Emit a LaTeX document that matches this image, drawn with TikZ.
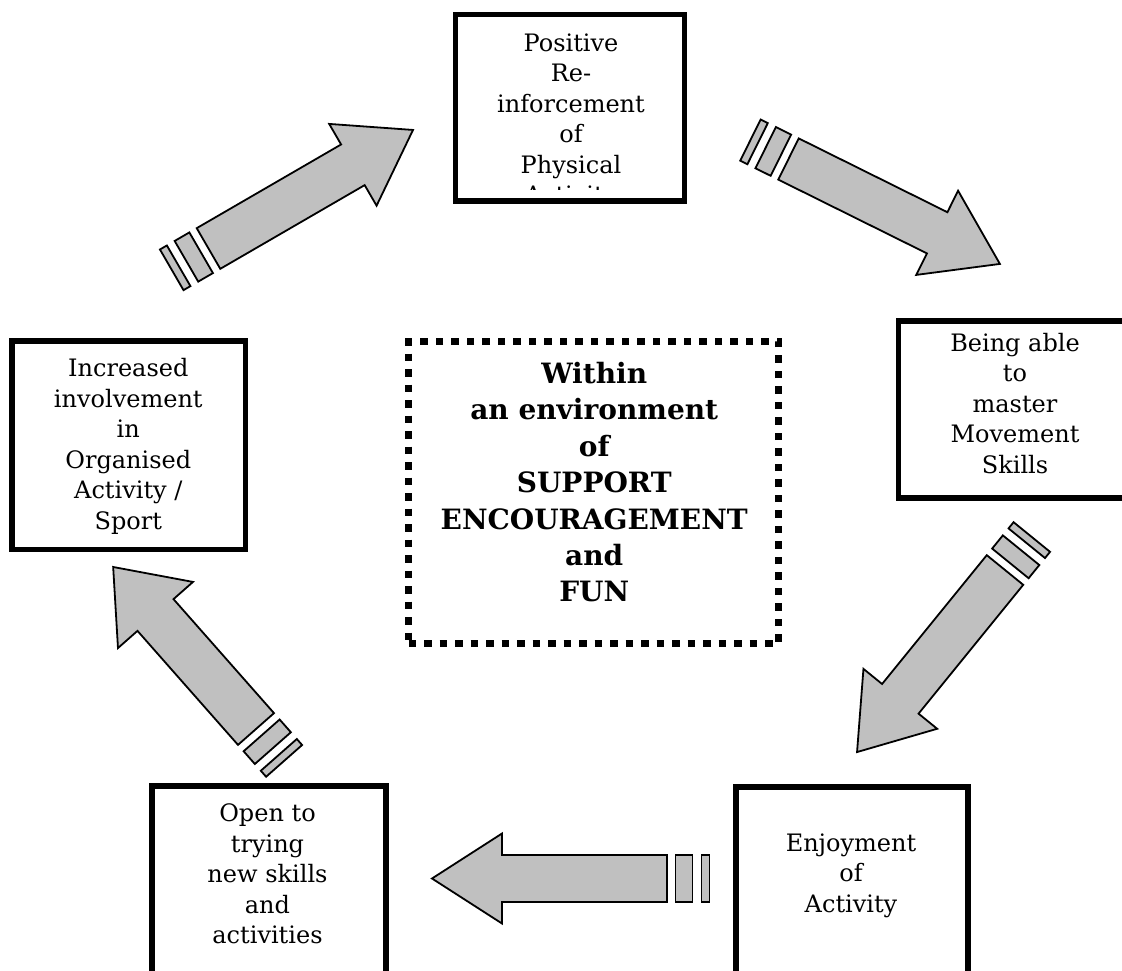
\documentclass[tikz,border=0pt]{standalone}
\usepackage{fontspec}
\setmainfont{DejaVu Serif}
\definecolor{arrowgray}{RGB}{192,192,192}

% Block arrow with a two-bar striped tail.
% #1 tail centre, #2 direction (deg), #3 length, #4 shaft width,
% #5 head width, #6 head length
\newcommand\cyclearrow[6]{%
  \begin{scope}[shift={#1}, rotate=#2]
    \draw[arrowbody] (0,-#4/2) -- (#3-#6,-#4/2) -- (#3-#6,-#5/2) -- (#3,0)
      -- (#3-#6,#5/2) -- (#3-#6,#4/2) -- (0,#4/2) -- cycle;
    \draw[arrowbody] (-8.5,-#4/2) rectangle (-25.5,#4/2);
    \draw[arrowbody] (-34.5,-#4/2) rectangle (-42.5,#4/2);
  \end{scope}}

\begin{document}
\begin{tikzpicture}[x=1pt, y=-1pt,
  stagebox/.style={draw, line width=5.5pt, inner sep=0pt},
  envbox/.style={draw, line width=7pt, dash pattern=on 7.5pt off 8pt, inner sep=0pt},
  stagetext/.style={anchor=north, inner sep=0pt, align=center,
    font=\fontsize{24}{30.5}\selectfont},
  envtext/.style={anchor=north, inner sep=0pt, align=center,
    font=\bfseries\fontsize{28}{36.4}\selectfont},
  arrowbody/.style={draw, line width=1.8pt, fill=arrowgray, line join=miter},
]
\useasboundingbox (0,0) rectangle (1122,971);
\clip (0,0) rectangle (1122,971);

% stage boxes
\node[stagebox, minimum width=229pt, minimum height=186.5pt] (pos) at (570,107.75) {};
\node[stagebox, minimum width=236.5pt, minimum height=177pt] (mas) at (1016.75,409.5) {};
\node[stagebox, minimum width=232pt, minimum height=203pt] (enj) at (852,888.5) {};
\node[stagebox, minimum width=234pt, minimum height=204pt] (opn) at (269,888) {};
\node[stagebox, minimum width=233.5pt, minimum height=208.5pt] (inv) at (128.75,445.25) {};

% central environment box
\node[envbox, minimum width=370pt, minimum height=302pt] (env) at (593.5,492.5) {};

% box texts
\begin{scope}
  \clip (458,18) rectangle (682,189);
  \node[stagetext] (posT) at (571,31) {\rule{0pt}{20pt}Positive\\Re-\\inforcement\\of\\Physical\\Activity};
\end{scope}
\node[stagetext] (masT) at (1015,331) {\rule{0pt}{20pt}Being able\\to\\master\\Movement\\Skills};
\node[stagetext] (enjT) at (851,831) {\rule{0pt}{20pt}Enjoyment\\of\\Activity};
\node[stagetext] (opnT) at (267.5,801.7) {\rule{0pt}{20pt}Open to\\trying\\new skills\\and\\activities};
\node[stagetext] (invT) at (128.3,356.7) {\rule{0pt}{20pt}Increased\\involvement\\in\\Organised\\Activity /\\Sport};
\node[envtext] (envT) at (594.2,359.3) {\rule{0pt}{24pt}Within\\an environment\\of\\SUPPORT\\ENCOURAGEMENT\\and\\FUN};

% cycle arrows
\cyclearrow{(208.5,248.5)}{30.1}{236.4}{47}{94.5}{69.5}
\cyclearrow{(788.5,159)}{-26.4}{236}{46}{94}{70}
\cyclearrow{(1005,570)}{230.9}{234.6}{47}{95}{68.6}
\cyclearrow{(667,878.5)}{180}{235}{47}{90}{70}
\cyclearrow{(256,729)}{131.4}{216}{48}{100}{64}
\end{tikzpicture}
\end{document}
